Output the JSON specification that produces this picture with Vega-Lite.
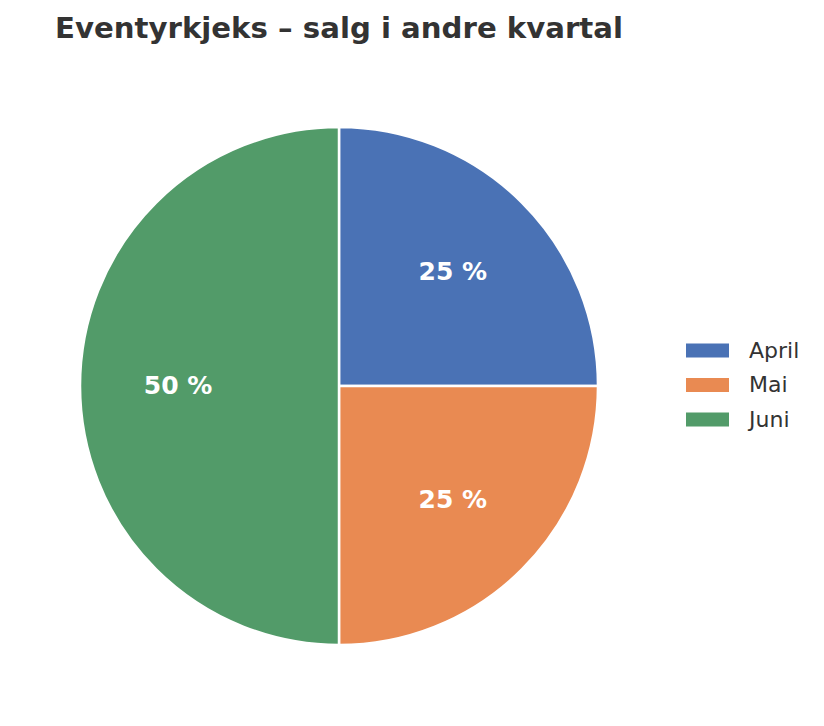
{
  "$schema": "https://vega.github.io/schema/vega-lite/v6.json",
  "autosize": "none",
  "width": 518,
  "height": 518,
  "padding": {"left": 80, "top": 127, "right": 226, "bottom": 81},
  "background": "white",
  "title": {"text": "Eventyrkjeks – salg i andre kvartal", "anchor": "start", "dx": -20, "offset": 78, "fontSize": 29.2, "font": "DejaVu Sans", "fontWeight": "bold", "color": "#333333"},
  "data": {"values": [
    {"nr": 1, "maaned": "April", "salg": 25, "etikett": "25 %"},
    {"nr": 2, "maaned": "Mai", "salg": 25, "etikett": "25 %"},
    {"nr": 3, "maaned": "Juni", "salg": 50, "etikett": "50 %"}
  ]},
  "encoding": {
    "theta": {"field": "salg", "type": "quantitative", "stack": true},
    "order": {"field": "nr", "type": "quantitative"},
    "color": {"field": "maaned", "type": "nominal", "sort": ["April", "Mai", "Juni"],
      "scale": {"domain": ["April", "Mai", "Juni"], "range": ["#4A72B5", "#E98A52", "#529B69"]},
      "legend": {"title": null, "orient": "none", "legendX": 606, "legendY": 202,
        "symbolType": "M-1,-0.326H1V0.326H-1Z", "symbolSize": 1849, "symbolStrokeWidth": 0,
        "labelFontSize": 22, "labelFont": "DejaVu Sans", "labelColor": "#333333", "labelOffset": 20, "rowPadding": 1.5}}
  },
  "layer": [
    {"mark": {"type": "arc", "outerRadius": 259, "stroke": "white", "strokeWidth": 2.5}},
    {"mark": {"type": "text", "radius": 161, "fontSize": 25, "fontWeight": "bold", "font": "DejaVu Sans"},
     "encoding": {"text": {"field": "etikett"}, "color": {"value": "white"}}}
  ],
  "config": {"view": {"stroke": null}}
}
